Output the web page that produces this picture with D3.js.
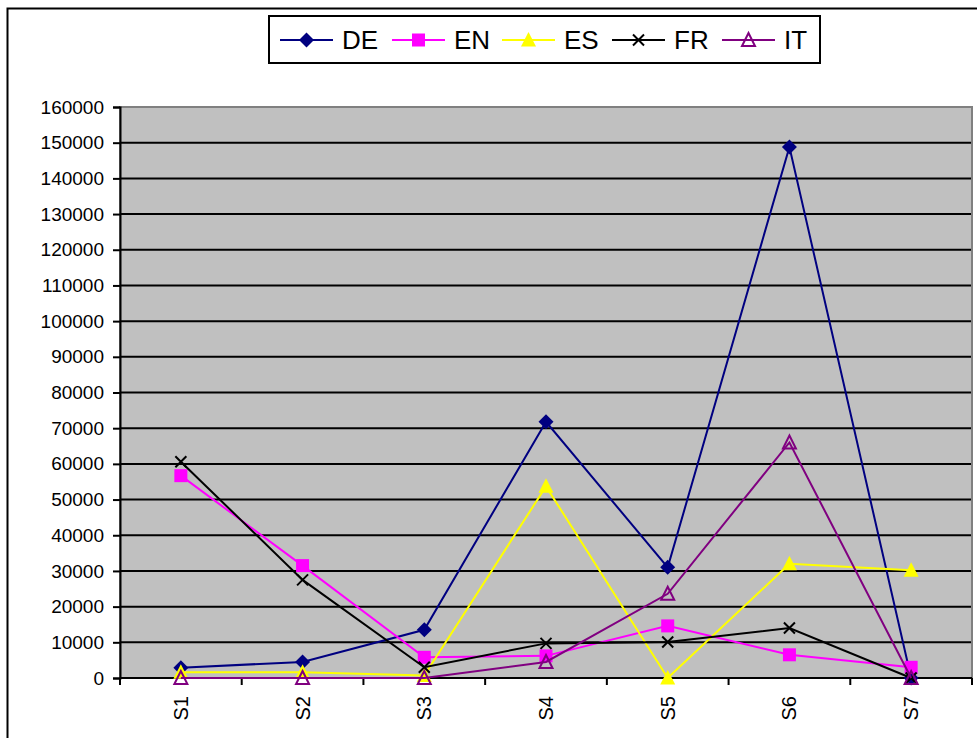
<!DOCTYPE html>
<html>
<head>
<meta charset="utf-8">
<script src="https://cdn.jsdelivr.net/npm/d3@7/dist/d3.min.js"></script>
<style>
  html, body { margin: 0; padding: 0; background: #fff; }
  svg { display: block; font-family: "Liberation Sans", Arial, sans-serif; }
</style>
</head>
<body>
<svg id="chart" width="977" height="738"></svg>
<script>
const categories = ["S1", "S2", "S3", "S4", "S5", "S6", "S7"];
const seriesNames = ["DE", "EN", "ES", "FR", "IT"];
const valuesDE = [2900, 4500, 13500, 71800, 31000, 148800, 0];
const valuesEN = [56700, 31500, 5800, 6200, 14600, 6500, 3000];
const valuesES = [1600, 1600, 700, 53700, 0, 32000, 30200];
const valuesFR = [60600, 27500, 3000, 9700, 10100, 14000, 0];
const valuesIT = [0, 0, 0, 4500, 23600, 66000, 0];
const yTicks = [0, 10000, 20000, 30000, 40000, 50000, 60000, 70000, 80000,
  90000, 100000, 110000, 120000, 130000, 140000, 150000, 160000];

const colors = { DE: "#000080", EN: "#FF00FF", ES: "#FFFF00", FR: "#000000", IT: "#800080" };
const seriesValues = { DE: valuesDE, EN: valuesEN, ES: valuesES, FR: valuesFR, IT: valuesIT };

const svg = d3.select("#chart");
const L = 120, R = 972, T = 107, B = 678;

// outer chart frame
svg.append("rect").attr("x", 7.5).attr("y", 8.5).attr("width", 1000).attr("height", 1000)
  .attr("fill", "#fff").attr("stroke", "#000").attr("stroke-width", 2);

const x = d3.scaleBand().domain(categories).range([L, R]).padding(0);
const y = d3.scaleLinear().domain([0, 160000]).range([B, T]);

// plot area
svg.append("rect").attr("x", L).attr("y", T).attr("width", R - L).attr("height", B - T)
  .attr("fill", "#C0C0C0");

// gridlines
svg.append("g").selectAll("line").data(yTicks.filter(v => v > 0 && v < 160000)).join("line")
  .attr("x1", L).attr("x2", R).attr("y1", d => y(d)).attr("y2", d => y(d))
  .attr("stroke", "#000").attr("stroke-width", 2);

// plot border (gray)
svg.append("rect").attr("x", L).attr("y", T).attr("width", R - L).attr("height", B - T)
  .attr("fill", "none").attr("stroke", "#808080").attr("stroke-width", 2);

// y axis
const yAxis = d3.axisLeft(y).tickValues(yTicks).tickSize(7).tickPadding(9).tickFormat(d3.format("d"));
const gy = svg.append("g").attr("transform", `translate(${L},0)`).call(yAxis);
gy.attr("font-size", 19).attr("font-family", "Liberation Sans, Arial, sans-serif");
gy.select(".domain").attr("stroke", "#000").attr("stroke-width", 2);
gy.selectAll(".tick line").attr("stroke", "#000").attr("stroke-width", 2);
gy.selectAll(".tick text").attr("fill", "#000");

// x axis
const xAxis = d3.axisBottom(x).tickSize(0).tickPadding(0);
const gx = svg.append("g").attr("transform", `translate(0,${B})`).call(xAxis);
gx.attr("font-size", 20).attr("font-family", "Liberation Sans, Arial, sans-serif");
gx.select(".domain").remove();
gx.append("line").attr("x1", L).attr("x2", R).attr("y1", 0).attr("y2", 0)
  .attr("stroke", "#000").attr("stroke-width", 2);
const boundaries = categories.map(c => x(c)).concat([R]);
gx.selectAll(".bt").data(boundaries).join("line").attr("class", "bt")
  .attr("x1", d => d).attr("x2", d => d).attr("y1", 0).attr("y2", 7)
  .attr("stroke", "#000").attr("stroke-width", 2);
gx.selectAll(".tick text")
  .attr("fill", "#000")
  .attr("text-anchor", "end").attr("dy", "0.35em")
  .attr("transform", "translate(0,18) rotate(-90)");

// markers
function drawMarker(g, name, cx, cy) {
  const c = colors[name];
  if (name === "DE") {
    g.append("path").attr("d", `M${cx},${cy - 7.5}L${cx + 7.5},${cy}L${cx},${cy + 7.5}L${cx - 7.5},${cy}Z`)
      .attr("fill", c);
  } else if (name === "EN") {
    g.append("rect").attr("x", cx - 6.5).attr("y", cy - 6.5).attr("width", 13).attr("height", 13)
      .attr("fill", c);
  } else if (name === "ES") {
    g.append("path").attr("d", `M${cx},${cy - 8}L${cx + 7.5},${cy + 6.5}L${cx - 7.5},${cy + 6.5}Z`)
      .attr("fill", c);
  } else if (name === "FR") {
    g.append("path").attr("d", `M${cx - 5.5},${cy - 5.5}L${cx + 5.5},${cy + 5.5}M${cx + 5.5},${cy - 5.5}L${cx - 5.5},${cy + 5.5}`)
      .attr("stroke", c).attr("stroke-width", 2);
  } else if (name === "IT") {
    g.append("path").attr("d", `M${cx},${cy - 7}L${cx + 6.5},${cy + 6}L${cx - 6.5},${cy + 6}Z`)
      .attr("fill", "none").attr("stroke", c).attr("stroke-width", 2);
  }
}

const line = d3.line().x((d, i) => x(categories[i]) + x.bandwidth() / 2).y(d => y(d));
seriesNames.forEach(name => {
  const vals = seriesValues[name];
  const g = svg.append("g");
  g.append("path").datum(vals).attr("d", line).attr("fill", "none")
    .attr("stroke", colors[name]).attr("stroke-width", 2);
  vals.forEach((v, i) => drawMarker(g, name, x(categories[i]) + x.bandwidth() / 2, y(v)));
});

// legend
const lg = svg.append("g");
lg.append("rect").attr("x", 269).attr("y", 16).attr("width", 551).attr("height", 47)
  .attr("fill", "#fff").attr("stroke", "#000").attr("stroke-width", 2);
const legendX = [280, 392, 502, 612, 722];
seriesNames.forEach((name, i) => {
  const lx = legendX[i], ly = 40;
  lg.append("line").attr("x1", lx).attr("x2", lx + 53).attr("y1", ly).attr("y2", ly)
    .attr("stroke", colors[name]).attr("stroke-width", 2);
  drawMarker(lg, name, lx + 26.5, ly);
  lg.append("text").attr("x", lx + 62).attr("y", ly).attr("dy", "0.36em")
    .attr("font-size", 26).attr("fill", "#000").text(name);
});
</script>
</body>
</html>
